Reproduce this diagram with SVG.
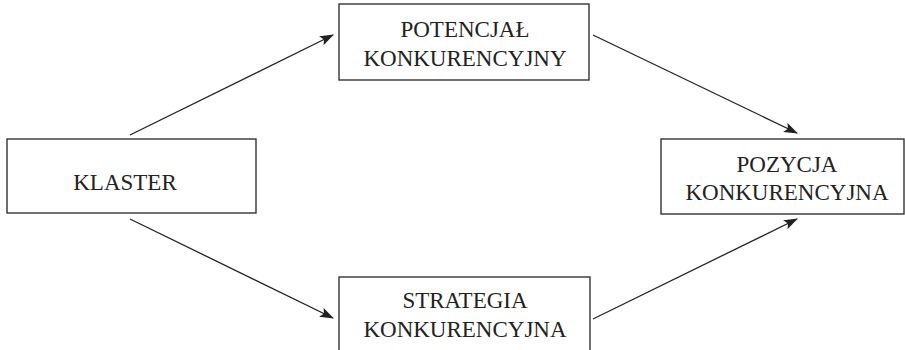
<svg xmlns="http://www.w3.org/2000/svg" width="905" height="350" viewBox="0 0 905 350">
<style>
.box{fill:#fff;stroke:#333;stroke-width:1.4}
.t{font-family:"Liberation Serif","Times New Roman",serif;font-size:23px;fill:#222;text-anchor:middle}
.c{stroke:#222;stroke-width:1.3;fill:none;marker-end:url(#ah)}
</style>
<defs>
<marker id="ah" viewBox="0 0 14 10" refX="13" refY="5" markerWidth="14" markerHeight="10" markerUnits="userSpaceOnUse" orient="auto">
<path d="M0,0 L14,5 L0,10 L3,5 Z" fill="#222"/>
</marker>
</defs>
<rect width="905" height="350" fill="#fff"/>
<g id="klaster">
<rect class="box" x="7" y="139" width="249" height="74"/>
<text class="t" x="125" y="190">KLASTER</text>
</g>
<g id="potencjal">
<rect class="box" x="339" y="4" width="250" height="76"/>
<text class="t" x="465" y="37">POTENCJAŁ</text>
<text class="t" x="465" y="66">KONKURENCYJNY</text>
</g>
<g id="strategia">
<rect class="box" x="339" y="277" width="251" height="80"/>
<text class="t" x="465" y="308">STRATEGIA</text>
<text class="t" x="465" y="337">KONKURENCYJNA</text>
</g>
<g id="pozycja">
<rect class="box" x="661" y="139" width="243" height="75"/>
<text class="t" x="787" y="172">POZYCJA</text>
<text class="t" x="787" y="200">KONKURENCYJNA</text>
</g>
<g id="connectors">
<line class="c" x1="130" y1="135" x2="333" y2="35"/>
<line class="c" x1="130" y1="219" x2="333" y2="318"/>
<line class="c" x1="593" y1="35" x2="797" y2="133"/>
<line class="c" x1="593" y1="319" x2="797" y2="219"/>
</g>
</svg>
